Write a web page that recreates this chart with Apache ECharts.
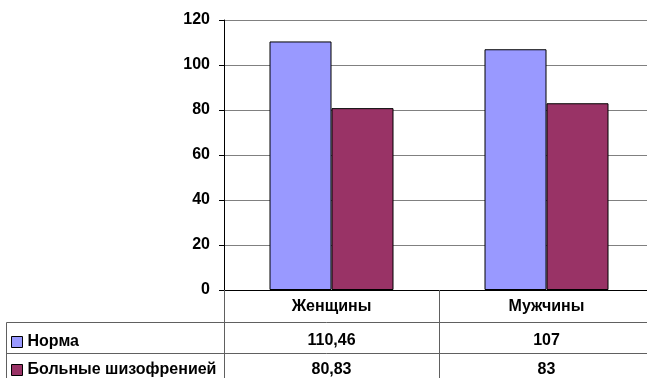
<!DOCTYPE html>
<html>
<head>
<meta charset="utf-8">
<script src="https://cdn.jsdelivr.net/npm/echarts@6/dist/echarts.min.js"></script>
<style>
  html, body { margin: 0; padding: 0; background: #fff; }
  #chart { width: 647px; height: 378px; }
</style>
</head>
<body>
<div id="chart"></div>
<script>
// Categories and series values
const categories = ['Женщины', 'Мужчины'];
const seriesNames = ['Норма', 'Больные шизофренией'];
const normaValues = [110.46, 107];
const patientValues = [80.83, 83];
const yTickLabels = ['0', '20', '40', '60', '80', '100', '120'];

// Decimal comma formatting for the data table
const fmt = v => String(v).replace('.', ',');

const FONT = '"Liberation Sans", Arial, sans-serif';
const textBase = { fontFamily: FONT, fontWeight: 'bold', fontSize: 16, color: '#000' };

// Layout of the plot and the data table under it
const GRID_LEFT = 224, GRID_TOP = 20, GRID_H = 270, CAT_W = 215;
const ZERO_Y = GRID_TOP + GRID_H;
const ROW1_Y = ZERO_Y + 32.5, ROW2_Y = ZERO_Y + 63.5, TABLE_LEFT = 6.5;
const LINE_COLOR = '#606060';
const SERIES_COLORS = ['#9999FF', '#993366'];

const chart = echarts.init(document.getElementById('chart'), null, { renderer: 'canvas' });

// extra category axes that print the table rows under the plot
const tableRowAxis = (values, margin) => ({
  type: 'category',
  data: categories,
  position: 'bottom',
  axisLine: { show: false },
  axisTick: { show: false },
  axisLabel: Object.assign({
    interval: 0,
    margin: margin,
    verticalAlign: 'middle',
    formatter: (val, idx) => fmt(values[idx])
  }, textBase)
});

// one legend entry per table row, vertically centred on the row
const rowLegend = (i, centerY) => ({
  orient: 'vertical',
  left: 11,
  top: centerY - 8,
  padding: 0,
  itemWidth: 11,
  itemHeight: 11,
  icon: 'rect',
  selectedMode: false,
  itemStyle: { borderColor: '#000', borderWidth: 1 },
  textStyle: Object.assign({ lineHeight: 16 }, textBase),
  data: [seriesNames[i]]
});

chart.setOption({
  animation: false,
  backgroundColor: '#fff',
  grid: {
    left: GRID_LEFT,
    top: GRID_TOP,
    width: CAT_W * categories.length,
    height: GRID_H,
    containLabel: false,
    outerBoundsMode: 'none'
  },
  legend: [
    rowLegend(0, ZERO_Y + 52),
    rowLegend(1, ZERO_Y + 80)
  ],
  xAxis: [
    {
      type: 'category',
      data: categories,
      position: 'bottom',
      axisLine: { show: true, lineStyle: { color: '#000', width: 1 } },
      axisTick: { show: true, length: 92, lineStyle: { color: LINE_COLOR, width: 1 } },
      axisLabel: Object.assign({ interval: 0, margin: 17, verticalAlign: 'middle' }, textBase)
    },
    tableRowAxis(normaValues, 51),
    tableRowAxis(patientValues, 80)
  ],
  yAxis: {
    type: 'value',
    min: 0,
    max: 120,
    interval: 20,
    axisLine: { show: true, lineStyle: { color: '#000', width: 1 } },
    axisTick: { show: true, length: 5, lineStyle: { color: '#000' } },
    splitLine: { show: true, lineStyle: { color: '#808080', width: 1 } },
    axisLabel: Object.assign({
      margin: 14,
      formatter: (v) => yTickLabels[Math.round(v / 20)]
    }, textBase)
  },
  series: [
    {
      name: seriesNames[0],
      type: 'bar',
      xAxisIndex: 0,
      data: normaValues,
      barWidth: 62,
      barGap: '0%',
      itemStyle: { color: SERIES_COLORS[0], borderColor: '#000', borderWidth: 1 }
    },
    {
      name: seriesNames[1],
      type: 'bar',
      xAxisIndex: 0,
      data: patientValues,
      barWidth: 62,
      barGap: '0%',
      itemStyle: { color: SERIES_COLORS[1], borderColor: '#000', borderWidth: 1 }
    }
  ],
  graphic: [
    // data table grid lines
    { type: 'line', shape: { x1: TABLE_LEFT, y1: ROW1_Y, x2: 647, y2: ROW1_Y }, style: { stroke: LINE_COLOR, lineWidth: 1 } },
    { type: 'line', shape: { x1: TABLE_LEFT, y1: ROW2_Y, x2: 647, y2: ROW2_Y }, style: { stroke: LINE_COLOR, lineWidth: 1 } },
    { type: 'line', shape: { x1: TABLE_LEFT, y1: ROW1_Y, x2: TABLE_LEFT, y2: 378 }, style: { stroke: LINE_COLOR, lineWidth: 1 } }
  ]
});
</script>
</body>
</html>
